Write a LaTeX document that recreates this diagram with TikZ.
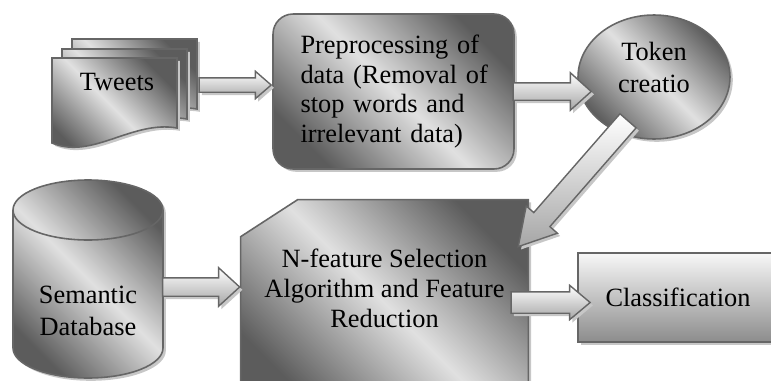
\documentclass[tikz,border=0pt]{standalone}
\usepackage{fontspec}
\setmainfont{Liberation Serif}
\usetikzlibrary{shapes.geometric, shapes.arrows, calc, positioning, backgrounds}

\tikzset{
  soft shadow/.style={preaction={fill=black!22, transform canvas={shift={(1.6pt,-1.6pt)}}}},
  shade box/.style={draw=black!60, line width=0.9pt, top color=black!64, bottom color=black!64,
    middle color=black!12, shading angle=-45, soft shadow},
  grad box/.style={draw=black!60, line width=0.9pt, top color=black!3, bottom color=black!45, soft shadow},
  fat arrow/.style={single arrow, draw=black!60, line width=0.8pt, top color=white, bottom color=black!35,
    inner xsep=0pt, minimum width=0pt, sloped, allow upside down, pos=1, anchor=tip, soft shadow},
  docpage/.pic={\filldraw[shade box] (0,0) -- (125,0) -- (125,-70) .. controls (80,-62) and (40,-102) .. (0,-85) -- cycle;}
}
\newcommand{\jline}[1]{\makebox[3.72cm][s]{#1}}

\begin{document}
\begin{tikzpicture}[x=0.02cm, y=0.02cm, font=\fontsize{15}{17}\selectfont]
  \useasboundingbox (0,0) rectangle (771,380);

  % tweets (stacked pages)
  \pic at (72,341) {docpage};
  \pic at (62,331) {docpage};
  \pic at (52,322) {docpage};
  \node (tweets) at (117,298) {Tweets};
  \coordinate (twout) at (198,295);

  % preprocessing
  \node[shade box, rounded corners=0.4cm, minimum width=4.82cm, minimum height=3.1cm,
    text width=3.72cm, align=left] (prep) at (393.5,288.5)
    {\jline{Preprocessing of}\\\jline{data (Removal of}\\\jline{stop words and}\\irrelevant data)};

  % tokens
  \node[shade box, ellipse, minimum width=3.04cm, minimum height=2.48cm, inner sep=0pt,
    align=center] (token) at (654,303) {Token\\[1pt]creatio\\[-6pt]\mbox{}};

  % semantic database
  \filldraw[shade box] (13,170) -- (13,32) arc[start angle=180, end angle=360, x radius=75, y radius=30]
    -- (163,170) arc[start angle=0, end angle=180, x radius=75, y radius=30] -- cycle;
  \draw[black!60, line width=0.9pt] (13,170) arc[start angle=180, end angle=360, x radius=75, y radius=30];
  \node[align=center] (semdb) at (88,69) {Semantic\\[1pt]Database};
  \coordinate (dbout) at (163,93);

  % feature selection
  \node[minimum width=5.74cm, minimum height=3.52cm, align=center] (nfeat) at (384.5,92)
    {N-feature Selection\\Algorithm and Feature\\Reduction};
  \begin{scope}[on background layer]
    \filldraw[shade box] ([yshift=-0.74cm]nfeat.north west) -- ([xshift=1.14cm]nfeat.north west)
      -- (nfeat.north east) -- ([yshift=-0.6cm]nfeat.south east) -- ([yshift=-0.6cm]nfeat.south west) -- cycle;
  \end{scope}

  % classification
  \node[grad box, minimum width=4cm, minimum height=1.78cm] (classif) at (678,82.5) {Classification};

  % block arrows
  \path (twout) -- node[fat arrow, minimum height=1.44cm, inner ysep=0.13cm,
    single arrow head extend=0.13cm, single arrow tip angle=82] {} (twout -| prep.west);
  \path (prep.east) -- node[fat arrow, minimum height=1.56cm, inner ysep=0.16cm,
    single arrow head extend=0.2cm, single arrow tip angle=84] {} ($(prep.east -| token.west)+(15,0)$);
  \path ([shift={(-27,-45)}]token.center) -- node[fat arrow, minimum height=3.34cm, inner ysep=0.2cm,
    single arrow head extend=0.2cm, single arrow tip angle=60] {} ([shift={(-11,-48)}]nfeat.north east);
  \path (dbout) -- node[fat arrow, minimum height=1.54cm, inner ysep=0.17cm,
    single arrow head extend=0.2cm, single arrow tip angle=85] {} (dbout -| nfeat.west);
  \path ($(classif.west)+(-65,-5)$) -- node[fat arrow, minimum height=1.58cm, inner ysep=0.2cm,
    single arrow head extend=0.13cm, single arrow tip angle=80] {} ($(classif.west)+(14,-5)$);
\end{tikzpicture}
\end{document}
